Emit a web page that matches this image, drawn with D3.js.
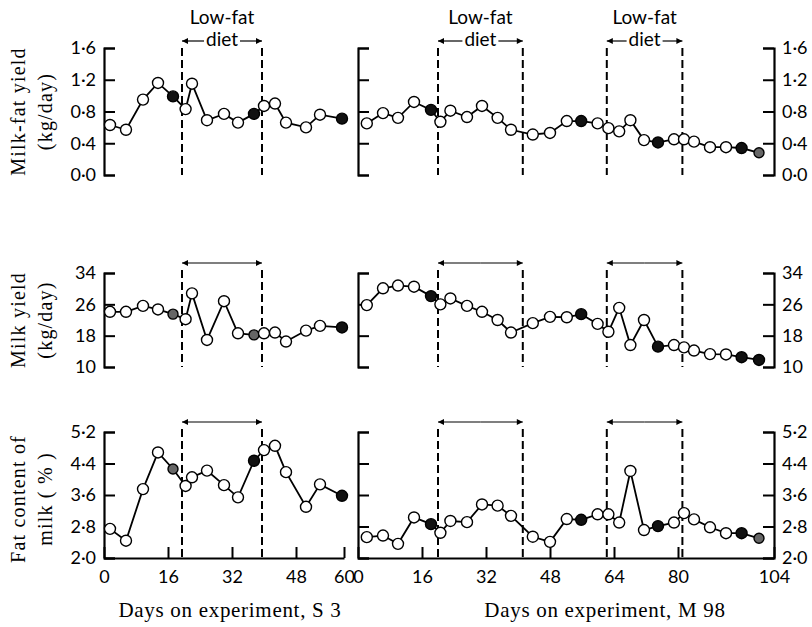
<!DOCTYPE html>
<html>
<head>
<meta charset="utf-8">
<script src="https://cdn.jsdelivr.net/npm/d3@7"></script>
<style>
    body { margin: 0; background: #fff; }
</style>
</head>
<body>
<div id="figure"></div>
<script>

// cow S3 (left panels)
const daysS3 = [1.5, 5.5, 9.75, 13.5, 17.25, 20.4, 22, 25.75, 30, 33.5, 37.5, 40, 42.75, 45.5, 50.5, 54, 59.5];
const fatYieldS3 = [0.63, 0.57, 0.95, 1.16, 0.99, 0.83, 1.15, 0.69, 0.77, 0.66, 0.77, 0.87, 0.90, 0.66, 0.60, 0.76, 0.71];
const milkYieldS3 = [24.1, 24.1, 25.6, 24.7, 23.5, 22.2, 28.8, 16.9, 26.8, 18.6, 18.2, 18.6, 18.8, 16.5, 19.3, 20.5, 20.1];
const fatContentS3 = [2.74, 2.44, 3.75, 4.68, 4.26, 3.83, 4.05, 4.22, 3.85, 3.54, 4.47, 4.74, 4.85, 4.18, 3.30, 3.87, 3.58];
// o = open circle, f = filled, g = grey
const fatYieldMarksS3   = ("oooofooooo" + "fooooof").split("");
const milkYieldMarksS3  = ("oooogooooo" + "gooooof").split("");
const fatContentMarksS3 = ("oooogooooo" + "fooooof").split("");

// cow M 98 (right panels)
const daysM98 = [2.2, 6.25, 10, 14, 18.25, 20.6, 23.1, 27.25, 31, 34.9, 38.25, 43.7, 48, 52.2, 55.8, 59.9, 62.6, 65.3, 68.1, 71.5, 75, 79, 81.5, 84, 88, 92, 95.9, 100.25];
const fatYieldM98 = [0.65, 0.78, 0.72, 0.92, 0.82, 0.67, 0.81, 0.73, 0.87, 0.72, 0.57, 0.51, 0.53, 0.68, 0.68, 0.65, 0.59, 0.55, 0.69, 0.44, 0.41, 0.45, 0.45, 0.42, 0.35, 0.35, 0.34, 0.28];
const milkYieldM98 = [25.8, 30.1, 30.8, 30.5, 28.1, 26.0, 27.5, 25.6, 24.1, 22.0, 18.8, 21.2, 22.8, 22.7, 23.5, 21.0, 19.0, 25.1, 15.6, 22.0, 15.2, 15.6, 15.0, 14.2, 13.3, 13.2, 12.5, 11.8];
const fatContentM98 = [2.53, 2.57, 2.36, 3.03, 2.86, 2.64, 2.94, 2.91, 3.36, 3.33, 3.07, 2.54, 2.41, 2.99, 2.97, 3.11, 3.11, 2.90, 4.21, 2.71, 2.81, 2.90, 3.14, 2.98, 2.78, 2.63, 2.63, 2.50];
const fatYieldMarksM98   = ("oooofooooo" + "oooofooooo" + "fooooofg").split("");
const milkYieldMarksM98  = ("oooofooooo" + "oooofooooo" + "fooooof" + "f").split("");
const fatContentMarksM98 = ("oooofooooo" + "oooofooooo" + "fooooofg").split("");

// low-fat diet periods (days)
const dietS3 = [[19.5, 39.5]];
const dietM98 = [[20, 41.2], [62.2, 81.1]];

// tick labels
const xTicksS3 = [0, 16, 32, 48, 60];
const xTicksM98 = [0, 16, 32, 48, 64, 80, 104];
const yTicksFatYield = [0, 0.4, 0.8, 1.2, 1.6];
const yTicksMilkYield = [10, 18, 26, 34];
const yTicksFatContent = [2.0, 2.8, 3.6, 4.4, 5.2];

const titlesY = [["Milk-fat yield", "(kg/day)"], ["Milk yield", "(kg/day)"], ["Fat content of", "milk ( % )"]];
const titlesX = ["Days on experiment, S 3", "Days on experiment, M 98"];


class DietFigure {

    constructor(div_id) {

        this.div_id = div_id;
        this.div = d3.select("#" + this.div_id);

        this.settings = {
            width: 812,
            height: 627,
            tick: 11,
            radius: 5.5,
            sans: "Lato, 'Open Sans', sans-serif",
            serif: "'Liberation Serif', 'DejaVu Serif', serif",
        }

        const dotted = d => d3.format(".1f")(d).replace(".", "\u00b7");

        this.rows = [
            {domain: [0, 1.6], ticks: yTicksFatYield, fmt: dotted, top: 48, bottom: 175, arrowY: 41, title: titlesY[0]},
            {domain: [10, 34], ticks: yTicksMilkYield, fmt: d3.format("d"), top: 273, bottom: 367, arrowY: 263, title: titlesY[1]},
            {domain: [2, 5.2], ticks: yTicksFatContent, fmt: dotted, top: 432, bottom: 558, arrowY: 422, title: titlesY[2]},
        ];

        this.cows = [
            {domain: [0, 60], range: [104, 344], ticks: xTicksS3, days: daysS3, diet: dietS3, title: titlesX[0], titleX: 230,
                series: [fatYieldS3, milkYieldS3, fatContentS3], marks: [fatYieldMarksS3, milkYieldMarksS3, fatContentMarksS3]},
            {domain: [0, 104], range: [358, 774], ticks: xTicksM98, days: daysM98, diet: dietM98, title: titlesX[1], titleX: 605,
                series: [fatYieldM98, milkYieldM98, fatContentM98], marks: [fatYieldMarksM98, milkYieldMarksM98, fatContentMarksM98]},
        ];

        this.svg = this.div.append("svg")
            .attr("width", this.settings.width)
            .attr("height", this.settings.height)
            .attr("viewBox", [0, 0, this.settings.width, this.settings.height])
            .style("font-family", this.settings.sans);

        this.add_markers();

        this.rows.forEach((row, r) => {
            this.cows.forEach((cow, c) => this.draw_panel(row, r, cow, c));
            this.draw_y_title(row);
        });

        this.cows.forEach(cow => {
            this.svg.append("text")
                .attr("x", cow.titleX)
                .attr("y", 617)
                .attr("text-anchor", "middle")
                .attr("font-family", this.settings.serif)
                .attr("font-size", 21)
                .attr("letter-spacing", 0.7)
                .text(cow.title);
        });
    }

    add_markers() {
        this.svg.append("defs").append("marker")
            .attr("id", "arrow")
            .attr("viewBox", "0 0 10 10")
            .attr("refX", 10)
            .attr("refY", 5)
            .attr("markerUnits", "userSpaceOnUse")
            .attr("markerWidth", 8)
            .attr("markerHeight", 6)
            .attr("orient", "auto")
          .append("path")
            .attr("d", "M0,0L10,5L0,10Z")
            .attr("fill", "black");
    }

    style_axis(g) {
        g.attr("font-size", 18)
            .attr("font-family", this.settings.sans);
        g.select(".domain").attr("stroke-width", 2.2);
        g.selectAll(".tick line").attr("stroke-width", 2);
    }

    draw_panel(row, r, cow, c) {

        const s = this.settings;
        const x = d3.scaleLinear().domain(cow.domain).range(cow.range);
        const y = d3.scaleLinear().domain(row.domain).range([row.bottom, row.top]);

        const g = this.svg.append("g");

        // y axes: left bracket, and for the right cow a labelled right axis too
        const left = d3.axisLeft(y)
            .tickValues(row.ticks)
            .tickSize(-s.tick)
            .tickSizeOuter(-s.tick)
            .tickPadding(8)
            .tickFormat(c === 0 ? row.fmt : () => "");

        g.append("g")
            .attr("transform", `translate(${cow.range[0]},0)`)
            .call(left)
            .call(a => this.style_axis(a));

        if (c === 1) {
            g.append("g")
                .attr("transform", `translate(${cow.range[1]},0)`)
                .call(d3.axisRight(y)
                    .tickValues(row.ticks)
                    .tickSize(-s.tick)
                    .tickSizeOuter(-s.tick)
                    .tickPadding(8)
                    .tickFormat(row.fmt))
                .call(a => this.style_axis(a));
        }

        if (r === 2) {
            g.append("g")
                .attr("transform", `translate(0,${row.bottom})`)
                .call(d3.axisBottom(x)
                    .tickValues(cow.ticks)
                    .tickSize(-s.tick)
                    .tickSizeOuter(0)
                    .tickPadding(12))
                .call(a => this.style_axis(a));
        }

        // low-fat diet periods
        cow.diet.forEach(period => {
            const x0 = x(period[0]);
            const x1 = x(period[1]);
            const mid = (x0 + x1) / 2;

            g.selectAll(null)
                .data([x0, x1])
                .join("line")
                .attr("x1", d => d)
                .attr("x2", d => d)
                .attr("y1", row.arrowY + 7)
                .attr("y2", row.bottom)
                .attr("stroke", "black")
                .attr("stroke-width", 2)
                .attr("stroke-dasharray", "8,4");

            let half = 0;
            if (r === 0) {
                g.append("text")
                    .attr("x", mid)
                    .attr("y", 24)
                    .attr("text-anchor", "middle")
                    .attr("font-size", 19)
                    .text("Low-fat");
                const diet = g.append("text")
                    .attr("x", mid)
                    .attr("y", 46)
                    .attr("text-anchor", "middle")
                    .attr("font-size", 19)
                    .text("diet");
                half = diet.node().getComputedTextLength() / 2 + 2;
            }
            [[mid - half, x0], [mid + half, x1]].forEach(seg => {
                g.append("line")
                    .attr("x1", seg[0]).attr("x2", seg[1])
                    .attr("y1", row.arrowY).attr("y2", row.arrowY)
                    .attr("stroke", "black").attr("stroke-width", 1.2)
                    .attr("marker-end", "url(#arrow)");
            });
        });

        // the series
        const values = cow.series[r];
        const marks = cow.marks[r];
        const points = cow.days.map((d, i) => ({day: d, v: values[i], m: marks[i]}));

        const line = d3.line()
            .x(d => x(d.day))
            .y(d => y(d.v));

        g.append("path")
            .datum(points)
            .attr("d", line)
            .attr("fill", "none")
            .attr("stroke", "black")
            .attr("stroke-width", 1.8);

        g.selectAll("circle")
            .data(points)
            .join("circle")
            .attr("cx", d => x(d.day))
            .attr("cy", d => y(d.v))
            .attr("r", d => d.m === "g" ? s.radius - 0.5 : s.radius)
            .attr("fill", d => d.m === "f" ? "#111" : d.m === "g" ? "#666" : "white")
            .attr("stroke", "black")
            .attr("stroke-width", 1.4);
    }

    draw_y_title(row) {
        const cy = (row.top + row.bottom) / 2 + (row.title[0].startsWith("Fat") ? 4 : 0);
        [25, 52].forEach((bx, i) => {
            this.svg.append("text")
                .attr("transform", `translate(${bx},${cy}) rotate(-90)`)
                .attr("text-anchor", "middle")
                .attr("font-family", this.settings.serif)
                .attr("font-size", 20)
                .attr("letter-spacing", 1.2)
                .text(row.title[i]);
        });
    }
}

new DietFigure("figure");

</script>
</body>
</html>
